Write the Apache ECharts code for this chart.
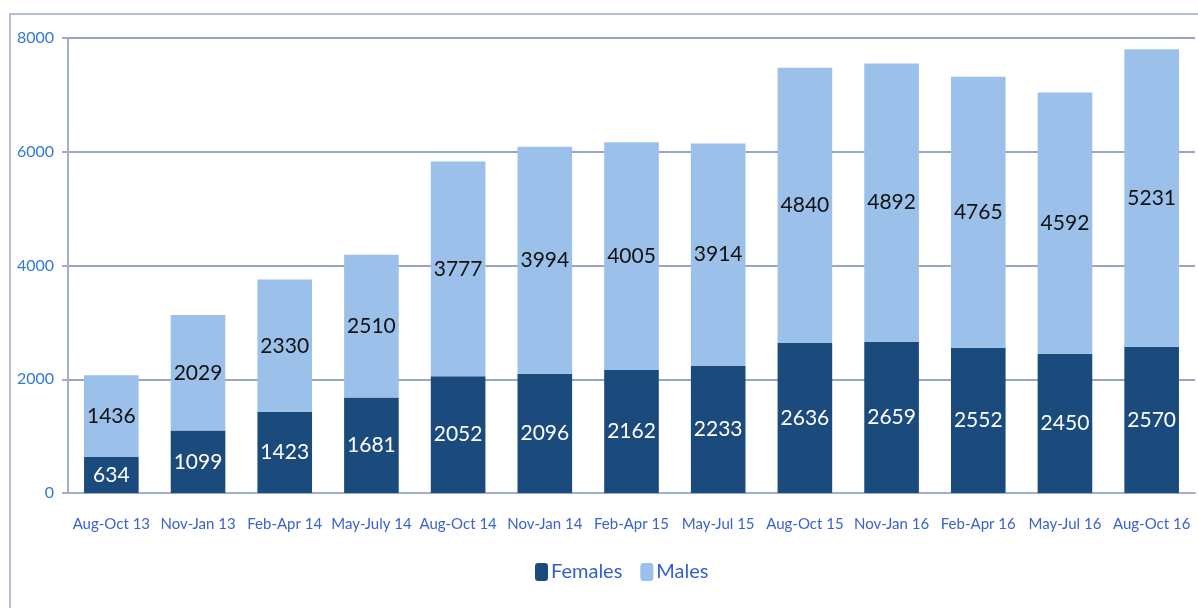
<!DOCTYPE html>
<html>
<head>
<meta charset="utf-8">
<script src="https://cdn.jsdelivr.net/npm/echarts@6/dist/echarts.min.js"></script>
<style>
  html, body { margin: 0; padding: 0; background: #fff; }
  #chart { width: 1198px; height: 608px; }
</style>
</head>
<body>
<div id="chart"></div>
<script>
// periods on the x axis
const periods = ['Aug-Oct 13', 'Nov-Jan 13', 'Feb-Apr 14', 'May-July 14', 'Aug-Oct 14', 'Nov-Jan 14',
  'Feb-Apr 15', 'May-Jul 15', 'Aug-Oct 15', 'Nov-Jan 16', 'Feb-Apr 16', 'May-Jul 16', 'Aug-Oct 16'];
const females = [634, 1099, 1423, 1681, 2052, 2096, 2162, 2233, 2636, 2659, 2552, 2450, 2570];
const males = [1436, 2029, 2330, 2510, 3777, 3994, 4005, 3914, 4840, 4892, 4765, 4592, 5231];
const yTicks = [0, 2000, 4000, 6000, 8000];

const labelFont = 'Lato, sans-serif';
const axisFont = 'Lato, sans-serif';

let chart = echarts.init(document.getElementById('chart'));

let option = {
  animation: false,
  graphic: [{
    type: 'rect',
    shape: { x: 10, y: 14, width: 1200, height: 620 },
    style: { fill: 'none', stroke: '#b4bdd6', lineWidth: 2 },
    silent: true
  }],
  grid: { left: 68, right: 3, top: 38, bottom: 115, containLabel: false },
  legend: {
    bottom: 21,
    left: 530,
    itemWidth: 13,
    itemHeight: 18,
    itemGap: 18,
    textStyle: { fontFamily: axisFont, fontSize: 20, color: '#3060c8', padding: [0, 0, 0, -2] },
    data: ['Females', 'Males']
  },
  xAxis: {
    type: 'category',
    data: periods,
    axisLine: { lineStyle: { color: '#a2aed0', width: 2 } },
    axisTick: { length: 8, lineStyle: { color: '#a2aed0', width: 2 } },
    axisLabel: { fontFamily: axisFont, fontSize: 15, color: '#3a62d0', margin: 24, interval: 0 }
  },
  yAxis: {
    type: 'value',
    min: yTicks[0],
    max: yTicks[yTicks.length - 1],
    interval: 2000,
    axisLine: { show: true, lineStyle: { color: '#a2aed0', width: 2 } },
    axisTick: { show: true, length: 6, lineStyle: { color: '#a2aed0', width: 2 } },
    splitLine: { lineStyle: { color: '#98a5c6', width: 2 } },
    axisLabel: { fontFamily: axisFont, fontSize: 16, color: '#2f7ad8', margin: 14, formatter: v => String(v) }
  },
  series: [
    {
      name: 'Females',
      type: 'bar',
      stack: 'total',
      data: females,
      barCategoryGap: '37%',
      itemStyle: { color: '#1b4a7c' },
      label: { show: true, position: 'inside', fontFamily: labelFont, fontSize: 21, color: '#ffffff' }
    },
    {
      name: 'Males',
      type: 'bar',
      stack: 'total',
      data: males,
      itemStyle: { color: '#9bc0ea' },
      label: { show: true, position: 'inside', fontFamily: labelFont, fontSize: 21, color: '#111111' }
    }
  ]
};

chart.setOption(option);
</script>
</body>
</html>
